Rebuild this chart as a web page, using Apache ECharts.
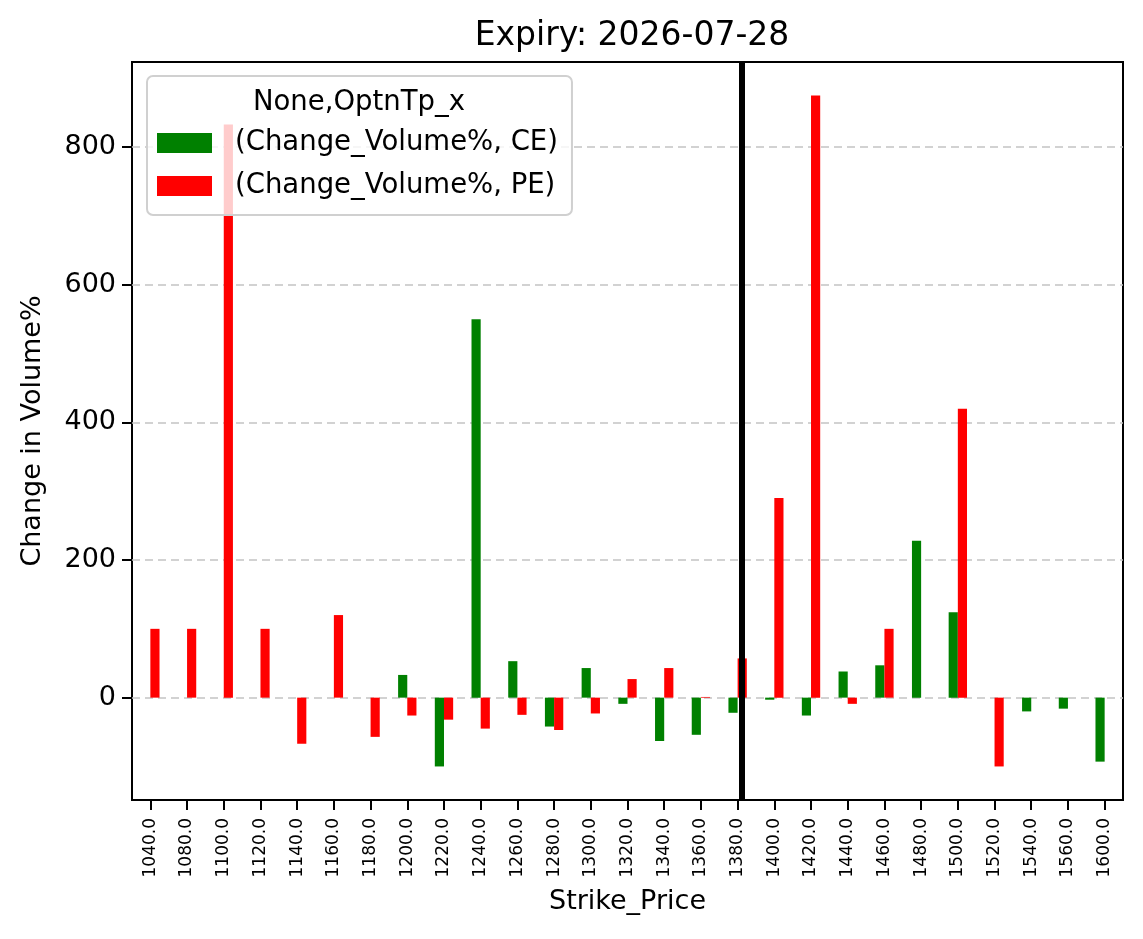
<!DOCTYPE html>
<html>
<head>
<meta charset="utf-8">
<script src="https://cdn.jsdelivr.net/npm/echarts@6/dist/echarts.min.js"></script>
<style>
  html, body { margin: 0; padding: 0; background: #fff; }
  #chart { width: 1143px; height: 939px; }
</style>
</head>
<body>
<div id="chart"></div>
<script>
// ---- data ----
const strikes = [1040, 1080, 1100, 1120, 1140, 1160, 1180, 1200, 1220, 1240, 1260, 1280, 1300, 1320,
                 1340, 1360, 1380, 1400, 1420, 1440, 1460, 1480, 1500, 1520, 1540, 1560, 1600];
const ceValues = [null, null, null, null, null, null, null, 33, -100, 550, 53, -42, 43, -9,
                  -63, -54, -22, -3, -26, 38, 47, 228, 124, null, -20, -16, -93];
const peValues = [100, 100, 833, 100, -67, 120, -57, -26, -32, -45, -25, -47, -23, 27,
                  43, 1, 57, 290, 875, -9, 100, null, 420, -100, null, null, null];
const yTicks = [0, 200, 400, 600, 800];
const spotStrike = 1380;
const titleText = 'Expiry: 2026-07-28';
const legendTitle = 'None,OptnTp_x';
const ceName = '(Change_Volume%, CE)';
const peName = '(Change_Volume%, PE)';

const categories = strikes.map(s => s.toFixed(1));
const FONT = 'DejaVu Sans';

const chart = echarts.init(document.getElementById('chart'), null, { renderer: 'canvas' });

const option = {
  animation: false,
  backgroundColor: '#fff',
  textStyle: { fontFamily: FONT, color: '#000' },
  title: {
    text: titleText,
    left: 627, top: 15,
    textAlign: 'center',
    textStyle: { fontFamily: FONT, fontSize: 33, fontWeight: 'normal', color: '#000' }
  },
  legend: {
    orient: 'vertical',
    left: 147, top: 76,
    padding: [53, 14, 15, 10],
    itemWidth: 55, itemHeight: 20, itemGap: 15,
    icon: 'rect',
    backgroundColor: 'rgba(255,255,255,0.8)',
    borderColor: '#d0d0d0', borderWidth: 2, borderRadius: 6,
    textStyle: { fontFamily: FONT, fontSize: 27.5, color: '#000', lineHeight: 27, padding: [0, 0, 0, 18] },
    data: [ceName, peName]
  },
  graphic: [{
    type: 'text', z: 100, zlevel: 0,
    x: 359, y: 103,
    style: { text: legendTitle, font: '27.5px "DejaVu Sans"', fill: '#000', textAlign: 'center', textVerticalAlign: 'middle' }
  }],
  grid: {
    left: 132, right: 20, top: 62, bottom: 139,
    show: true, borderColor: '#000', borderWidth: 2, backgroundColor: '#fff',
    containLabel: false
  },
  xAxis: {
    type: 'category',
    data: categories,
    boundaryGap: true,
    name: 'Strike_Price',
    nameLocation: 'middle',
    nameGap: 88,
    nameTextStyle: { fontFamily: FONT, fontSize: 27, color: '#000' },
    axisLine: { show: true, onZero: false, lineStyle: { color: '#000', width: 2 } },
    axisTick: { show: true, alignWithLabel: true, interval: 0, length: 10, lineStyle: { color: '#000', width: 2 } },
    axisLabel: { interval: 0, rotate: 90, margin: 18, fontFamily: FONT, fontSize: 17, color: '#000' },
    splitLine: { show: false }
  },
  yAxis: {
    type: 'value',
    min: -148.75, max: 923.75,
    name: 'Change in Volume%',
    nameLocation: 'middle',
    nameGap: 86,
    nameTextStyle: { fontFamily: FONT, fontSize: 27, color: '#000' },
    axisLine: { show: true, onZero: false, lineStyle: { color: '#000', width: 2 } },
    axisTick: { show: true, length: 10, customValues: yTicks, lineStyle: { color: '#000', width: 2 } },
    axisLabel: { customValues: yTicks, margin: 16, fontFamily: FONT, fontSize: 27, color: '#000' },
    splitLine: { show: false }
  },
  series: [
    {
      name: ceName, type: 'bar', data: ceValues,
      barWidth: '25%', barGap: '0%',
      itemStyle: { color: '#008000' },
      z: 2,
      markLine: {
        silent: true, symbol: ['none', 'none'], z: 1,
        label: { show: false },
        lineStyle: { color: '#c4c4c4', width: 1.5, type: [8, 5] },
        emphasis: { disabled: true },
        data: yTicks.map(v => ({ yAxis: v }))
      }
    },
    {
      name: peName, type: 'bar', data: peValues,
      barWidth: '25%', barGap: '0%',
      itemStyle: { color: '#ff0000' },
      z: 3,
      markLine: {
        silent: true, symbol: ['none', 'none'],
        label: { show: false },
        lineStyle: { color: '#000', width: 6, type: 'solid' },
        emphasis: { disabled: true },
        data: [{ xAxis: spotStrike.toFixed(1) }]
      }
    }
  ]
};
chart.setOption(option);
</script>
</body>
</html>
